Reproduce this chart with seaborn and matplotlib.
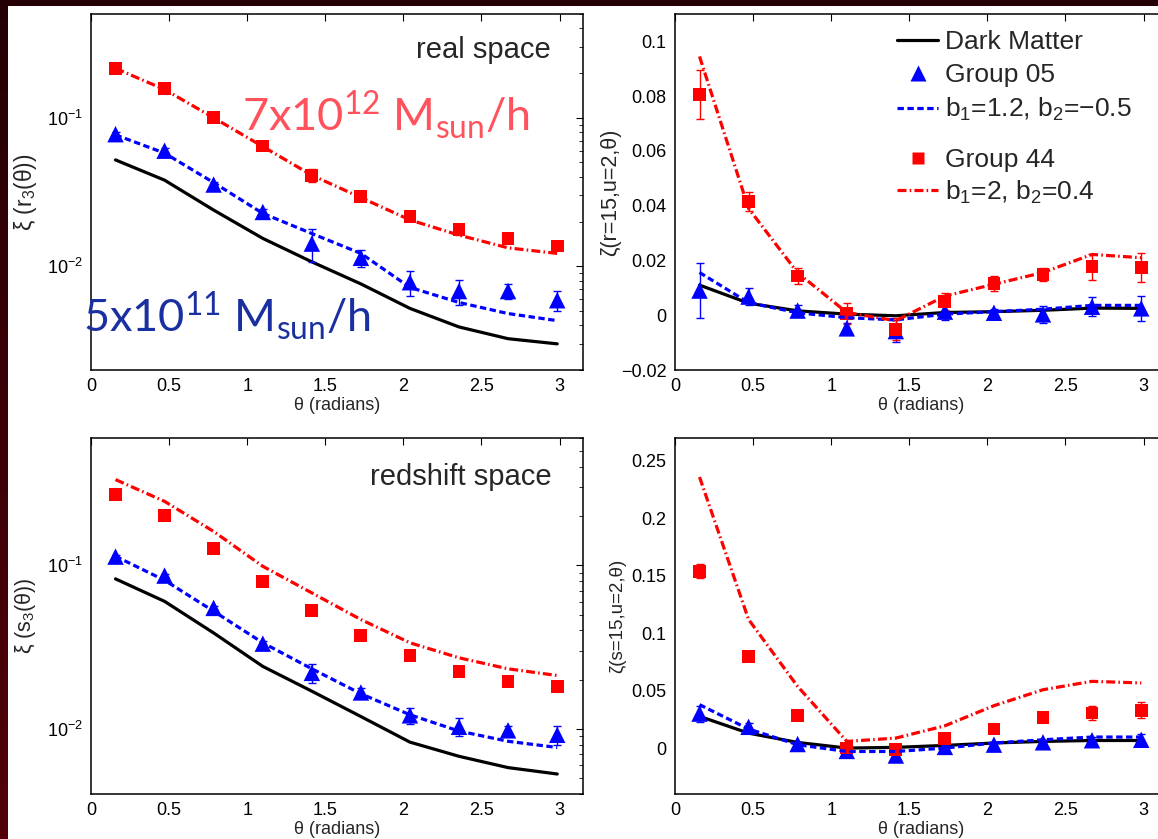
import numpy as np
import matplotlib
matplotlib.use("Agg")
import matplotlib.pyplot as plt
from matplotlib.lines import Line2D
from matplotlib.patches import Rectangle
from matplotlib.colors import LinearSegmentedColormap
from matplotlib.ticker import FuncFormatter, MultipleLocator, LogLocator
import seaborn as sns

sns.set_style("white")
plt.rcParams['font.family'] = ['Liberation Sans', 'DejaVu Sans']
plt.rcParams['mathtext.fontset'] = 'custom'
plt.rcParams['mathtext.rm'] = 'Lato'
plt.rcParams['mathtext.sf'] = 'Liberation Sans'
plt.rcParams['mathtext.it'] = 'Liberation Sans:italic'

# ---------------- data ----------------
theta = [0.157, 0.471, 0.785, 1.100, 1.414, 1.728, 2.042, 2.356, 2.670, 2.985]

# real space xi(r3(theta))
dm_real = [0.052, 0.038, 0.0239, 0.0154, 0.0107, 0.0076, 0.0052, 0.0039, 0.00325, 0.0030]
g05_real = [0.0775, 0.060, 0.0355, 0.0232, 0.0142, 0.0114, 0.0078, 0.0068, 0.0068, 0.0059]
g05_real_err = [0.003, 0.003, 0.0015, 0.001, 0.0035, 0.0015, 0.0015, 0.0013, 0.0008, 0.0009]
g05_model_real = [0.0767, 0.0578, 0.0366, 0.0227, 0.0166, 0.0122, 0.0072, 0.0057, 0.0048, 0.0043]
g44_real = [0.215, 0.157, 0.101, 0.0645, 0.041, 0.0295, 0.0216, 0.0177, 0.0154, 0.0137]
g44_real_err = [0.005, 0.004, 0.002, 0.002, 0.004, 0.0015, 0.0015, 0.0015, 0.0008, 0.0008]
g44_model_real = [0.215, 0.155, 0.100, 0.064, 0.041, 0.029, 0.0205, 0.0162, 0.0133, 0.0122]

# real space zeta(r=15,u=2,theta)
dm_zr = [0.011, 0.0044, 0.0016, 0.0004, -0.0002, 0.001, 0.0013, 0.0018, 0.0026, 0.0025]
g05_zr = [0.009, 0.0068, 0.0017, -0.0048, -0.0058, 0.0013, 0.0009, 0.0003, 0.0031, 0.0025]
g05_zr_err = [0.010, 0.003, 0.002, 0.002, 0.004, 0.003, 0.0015, 0.003, 0.0035, 0.0045]
g05_model_zr = [0.0156, 0.0046, 0.0009, -0.0009, -0.0017, 0.0004, 0.0013, 0.0022, 0.0036, 0.0036]
g44_zr = [0.0806, 0.0414, 0.0143, 0.0006, -0.0051, 0.005, 0.0116, 0.0149, 0.0177, 0.0174]
g44_zr_err = [0.009, 0.0035, 0.003, 0.0037, 0.004, 0.003, 0.0027, 0.0025, 0.0048, 0.0053]
g44_model_zr = [0.0945, 0.039, 0.0155, 0.001, -0.002, 0.007, 0.0113, 0.0156, 0.0222, 0.021]

# redshift space xi(s3(theta))
dm_rs = [0.0826, 0.0602, 0.0386, 0.0241, 0.017, 0.0119, 0.0083, 0.0068, 0.0058, 0.0053]
g05_rs = [0.113, 0.0865, 0.0549, 0.0332, 0.022, 0.0167, 0.0121, 0.0103, 0.0098, 0.0092]
g05_rs_err = [0.003, 0.002, 0.0015, 0.0015, 0.0028, 0.001, 0.0014, 0.0013, 0.0006, 0.0012]
g05_model_rs = [0.1135, 0.081, 0.0524, 0.0336, 0.0233, 0.0164, 0.0122, 0.0097, 0.0084, 0.0077]
g44_rs = [0.27, 0.201, 0.1265, 0.080, 0.053, 0.0372, 0.028, 0.0225, 0.0195, 0.0182]
g44_rs_err = [0.006, 0.004, 0.003, 0.002, 0.0015, 0.001, 0.001, 0.0008, 0.0006, 0.0006]
g44_model_rs = [0.334, 0.246, 0.161, 0.0986, 0.0678, 0.0466, 0.0336, 0.0272, 0.0233, 0.0212]

# redshift space zeta(s=15,u=2,theta)
dm_zs = [0.0276, 0.013, 0.0049, 0.0, 0.0006, 0.0023, 0.0044, 0.0058, 0.0066, 0.0066]
g05_zs = [0.030, 0.0185, 0.0035, -0.0025, -0.0065, 0.001, 0.003, 0.005, 0.0068, 0.0072]
g05_zs_err = [0.007, 0.003, 0.002, 0.002, 0.004, 0.002, 0.002, 0.002, 0.003, 0.005]
g05_model_zs = [0.0378, 0.0166, 0.0029, -0.003, -0.003, 0.0, 0.0044, 0.0072, 0.0096, 0.0096]
g44_zs = [0.154, 0.0794, 0.0282, 0.0, -0.0009, 0.0081, 0.0166, 0.0267, 0.0305, 0.0328]
g44_zs_err = [0.006, 0.002, 0.002, 0.002, 0.002, 0.002, 0.002, 0.003, 0.006, 0.007]
g44_model_zs = [0.236, 0.112, 0.0537, 0.0058, 0.0087, 0.0194, 0.0369, 0.0508, 0.0581, 0.0567]

legend_labels = ["Dark Matter", "Group 05", "b$_{\\mathsf{1}}$=1.2, b$_{\\mathsf{2}}$=\u22120.5",
                 "Group 44", "b$_{\\mathsf{1}}$=2, b$_{\\mathsf{2}}$=0.4"]

BLUE = "#0000ff"
RED = "#ff0000"
W, H = 1158, 839
fig = plt.figure(figsize=(W / 100, H / 100), dpi=100)
fig.patch.set_facecolor("white")

# dark maroon frame strips
fig.patches.append(Rectangle((0, 1 - 6 / H), 1, 6 / H, transform=fig.transFigure,
                             facecolor="#240004", edgecolor="none", zorder=-5))
gax = fig.add_axes([0, 0, 8 / W, 1])
grad = np.linspace(0, 1, 256).reshape(-1, 1)
cm = LinearSegmentedColormap.from_list("m", ["#240004", "#520009"])
gax.imshow(grad, aspect="auto", cmap=cm, extent=[0, 1, 0, 1])
gax.axis("off")

aw, ah = 492 / W, 356 / H
positions = {
    "tl": [91 / W, (H - 370) / H, aw, ah],
    "tr": [675 / W, (H - 370) / H, aw, ah],
    "bl": [91 / W, (H - 794) / H, aw, ah],
    "br": [675 / W, (H - 794) / H, aw, ah],
}

BDASH = [2.0, 1.1]
RDASH = [2.8, 1.0, 0.5, 1.0]


def fmt(v, pos):
    s = "%g" % v
    return s.replace("-", "\u2212")


def draw(ax, dm, g05, g05e, g05m, g44, g44e, g44m, log):
    sns.lineplot(x=theta, y=dm, ax=ax, color="black", lw=2.3, zorder=3)
    ax.errorbar(theta, g05, yerr=g05e, fmt="none", ecolor=BLUE, elinewidth=1, capsize=3, zorder=4)
    sns.scatterplot(x=theta, y=g05, ax=ax, marker="^", s=140, color=BLUE,
                    edgecolor="none", linewidth=0, zorder=5)
    sns.lineplot(x=theta, y=g05m, ax=ax, color=BLUE, lw=2.3, zorder=6)
    ax.lines[-1].set_dashes(BDASH)
    ax.errorbar(theta, g44, yerr=g44e, fmt="none", ecolor=RED, elinewidth=1, capsize=3, zorder=4)
    sns.scatterplot(x=theta, y=g44, ax=ax, marker="s", s=85, color=RED,
                    edgecolor="none", linewidth=0, zorder=5)
    sns.lineplot(x=theta, y=g44m, ax=ax, color=RED, lw=2.3, zorder=6)
    ax.lines[-1].set_dashes(RDASH)
    ax.set_xlim(0, 3.15)
    ax.xaxis.set_major_locator(MultipleLocator(0.5))
    ax.xaxis.set_major_formatter(FuncFormatter(fmt))
    if log:
        ax.set_yscale("log")
        ax.yaxis.set_minor_locator(LogLocator(base=10, subs=np.arange(2, 10)))
    ax.tick_params(which="both", direction="in", top=True, right=True,
                   labelsize=13, colors="black", pad=6)
    ax.tick_params(which="major", length=5, width=0.8)
    ax.tick_params(which="minor", length=3, width=0.6)
    for sp in ax.spines.values():
        sp.set_color("black")
        sp.set_linewidth(1.1)
    ax.set_xlabel("\u03b8 (radians)", fontsize=13, labelpad=1)
    ax.set_facecolor("white")


ax1 = fig.add_axes(positions["tl"])
draw(ax1, dm_real, g05_real, g05_real_err, g05_model_real, g44_real, g44_real_err, g44_model_real, True)
ax1.set_ylim(0.002, 0.5)
ax1.set_ylabel("\u03be (r$_{\\mathsf{3}}$(\u03b8))", fontsize=16.5)
ax1.yaxis.set_label_coords(-0.105, 0.5)
ax1.text(0.935, 0.876, "real space", transform=ax1.transAxes, ha="right", va="baseline", fontsize=21)
ax1.text(0.307, 0.671, "7x10$^{\\mathrm{12}}$ M$_{\\mathrm{sun}}$/h", transform=ax1.transAxes,
         ha="left", va="baseline", fontsize=32.5, color="#ff525c", family="Lato", zorder=10)
ax1.text(-0.016, 0.107, "5x10$^{\\mathrm{11}}$ M$_{\\mathrm{sun}}$/h", transform=ax1.transAxes,
         ha="left", va="baseline", fontsize=32.5, color="#1a2fa0", family="Lato", zorder=10)

ax2 = fig.add_axes(positions["tr"])
draw(ax2, dm_zr, g05_zr, g05_zr_err, g05_model_zr, g44_zr, g44_zr_err, g44_model_zr, False)
ax2.set_ylim(-0.02, 0.11)
ax2.yaxis.set_major_locator(MultipleLocator(0.02))
ax2.yaxis.set_major_formatter(FuncFormatter(fmt))
ax2.set_ylabel("\u03b6(r=15,u=2,\u03b8)", fontsize=15.5)
ax2.yaxis.set_label_coords(-0.11, 0.5)

handles = [
    Line2D([], [], color="black", lw=2.3),
    Line2D([], [], ls="none", marker="^", ms=11.5, color=BLUE, mec="none"),
    Line2D([], [], color=BLUE, lw=2.3, dashes=BDASH),
    Line2D([], [], ls="none", marker="s", ms=9, color=RED, mec="none"),
    Line2D([], [], color=RED, lw=2.3, dashes=RDASH),
]
leg_kw = dict(loc="upper left", frameon=False, fontsize=19, handlelength=1.55,
              handletextpad=0.25, borderpad=0, borderaxespad=0)
leg1 = ax2.legend(handles[:3], legend_labels[:3], bbox_to_anchor=(0.452, 0.954),
                  labelspacing=0.33, **leg_kw)
ax2.add_artist(leg1)
ax2.legend(handles[3:], legend_labels[3:], bbox_to_anchor=(0.452, 0.624),
           labelspacing=0.25, **leg_kw)

ax3 = fig.add_axes(positions["bl"])
draw(ax3, dm_rs, g05_rs, g05_rs_err, g05_model_rs, g44_rs, g44_rs_err, g44_model_rs, True)
ax3.set_ylim(0.004, 0.6)
ax3.set_ylabel("\u03be (s$_{\\mathsf{3}}$(\u03b8))", fontsize=15.5)
ax3.yaxis.set_label_coords(-0.108, 0.5)
ax3.text(0.937, 0.868, "redshift space", transform=ax3.transAxes, ha="right", va="baseline", fontsize=21)

ax4 = fig.add_axes(positions["br"])
draw(ax4, dm_zs, g05_zs, g05_zs_err, g05_model_zs, g44_zs, g44_zs_err, g44_model_zs, False)
ax4.set_ylim(-0.04, 0.27)
ax4.yaxis.set_major_locator(MultipleLocator(0.05))
ax4.yaxis.set_major_formatter(FuncFormatter(fmt))
ax4.set_ylabel("\u03b6(s=15,u=2,\u03b8)", fontsize=13.5)
ax4.yaxis.set_label_coords(-0.1, 0.5)

fig.savefig("out.png", dpi=100, facecolor=fig.get_facecolor())
